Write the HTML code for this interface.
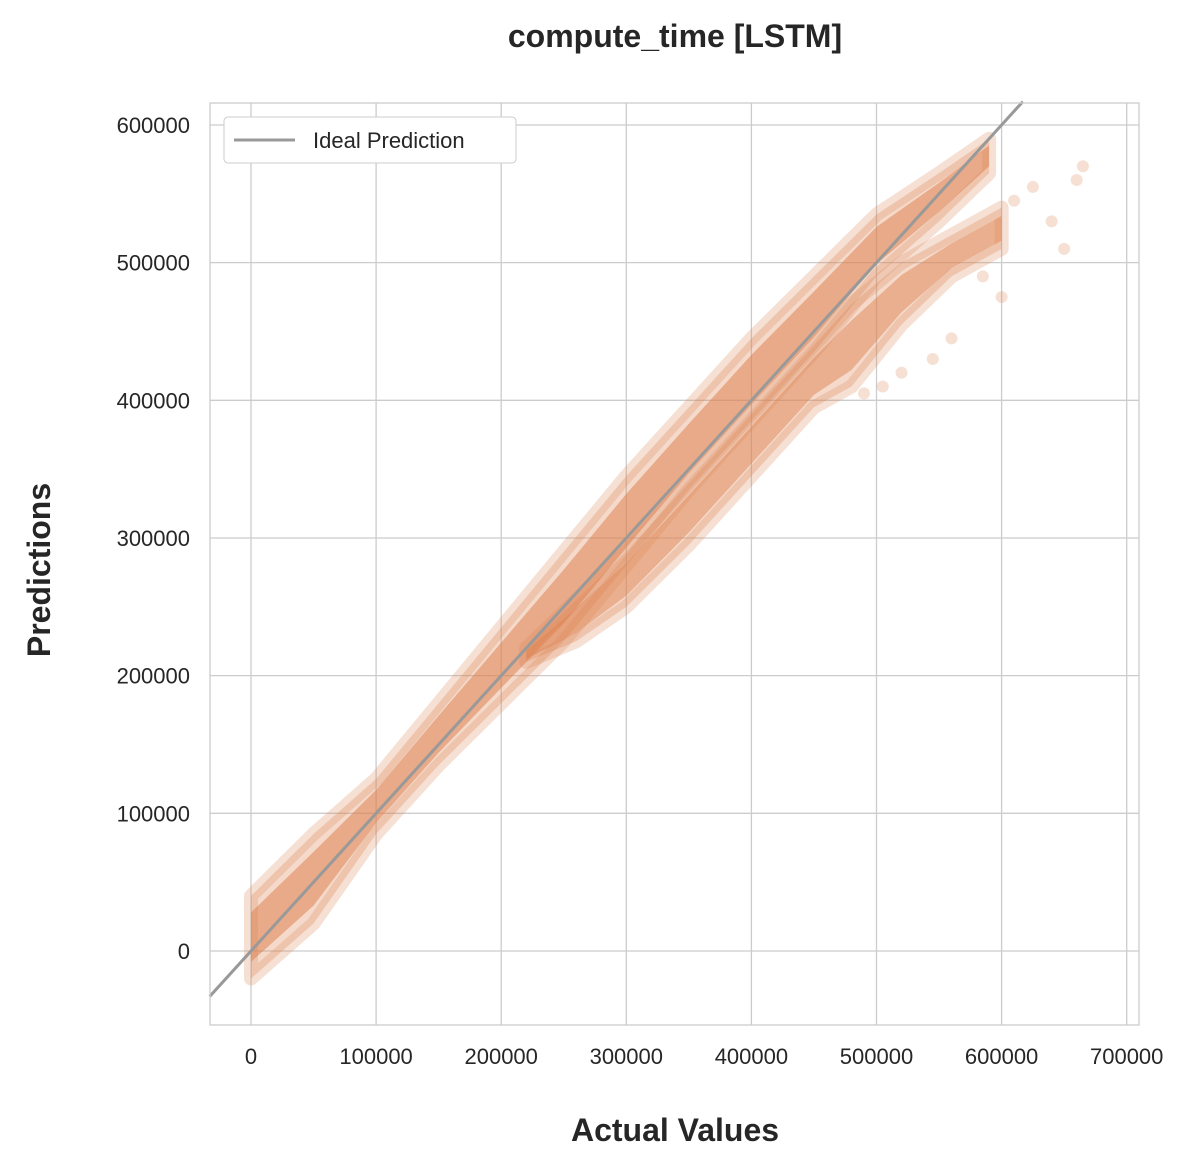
<!DOCTYPE html>
<html><head><meta charset="utf-8"><style>
body{margin:0;background:#fff;}
svg text{font-family:"Liberation Sans",Arial,sans-serif;fill:#262626;}
</style></head><body>
<svg id="chart" width="1191" height="1170" viewBox="0 0 1191 1170" xmlns="http://www.w3.org/2000/svg">
<rect width="1191" height="1170" fill="#fff"/>
<text x="675" y="47" font-size="32" font-weight="bold" text-anchor="middle">compute_time [LSTM]</text>
<g id="grid"></g>
<g id="marks"></g>
<line id="ideal" stroke="#999" stroke-width="3"/>
<rect x="210" y="103" width="929" height="922" fill="none" stroke="#ccc" stroke-width="1.3"/>
<g id="ticks"></g>
<text x="675" y="1141" font-size="32" font-weight="bold" text-anchor="middle">Actual Values</text>
<text transform="translate(50,570) rotate(-90)" font-size="32" font-weight="bold" text-anchor="middle">Predictions</text>
<g>
<rect x="224" y="117" width="292" height="46" rx="4" fill="#fff" stroke="#ccc"/>
<line x1="234" y1="140" x2="295" y2="140" stroke="#999" stroke-width="3"/>
<text x="313" y="148" font-size="22">Ideal Prediction</text>
</g>
</svg>
<script>
const xTicks=[0,100000,200000,300000,400000,500000,600000,700000];
const yTicks=[0,100000,200000,300000,400000,500000,600000];
const upperX=[0,50000,100000,150000,200000,250000,300000,350000,400000,450000,500000,550000,590000];
const upperHi=[40000,85000,125000,180000,235000,290000,345000,395000,445000,490000,535000,565000,590000];
const upperLo=[-20000,20000,85000,135000,180000,225000,280000,335000,385000,435000,490000,530000,565000];
const lowerX=[220000,260000,300000,350000,400000,450000,480000,520000,560000,600000];
const lowerHi=[220000,255000,290000,340000,390000,440000,470000,500000,520000,540000];
const lowerLo=[210000,225000,250000,295000,345000,395000,410000,455000,490000,510000];
const outX=[610000,625000,640000,650000,660000,665000,600000,585000,560000,545000,520000,505000,490000];
const outY=[545000,555000,530000,510000,560000,570000,475000,490000,445000,430000,420000,410000,405000];
const NS='http://www.w3.org/2000/svg';
const sx=v=>251+v*125.1/100000, sy=v=>951-v*137.67/100000;
const mk=(t,p)=>{const e=document.createElementNS(NS,t);for(const k in p)e.setAttribute(k,p[k]);return e;};
const grid=document.getElementById('grid'),ticks=document.getElementById('ticks'),marks=document.getElementById('marks');
xTicks.forEach(v=>{const l=mk('line',{x1:sx(v),x2:sx(v),y1:103,y2:1025,stroke:'#ccc','stroke-width':1.3});

grid.appendChild(l);
const t=mk('text',{x:sx(v),y:1064,'font-size':22,'text-anchor':'middle'});t.textContent=v;

ticks.appendChild(t);});
yTicks.forEach(v=>{const l=mk('line',{x1:210,x2:1139,y1:sy(v),y2:sy(v),stroke:'#ccc','stroke-width':1.3});

grid.appendChild(l);
const t=mk('text',{x:190,y:sy(v)+8,'font-size':22,'text-anchor':'end'});t.textContent=v;

ticks.appendChild(t);});
function band(xs,hi,lo,name,op){
 let pts=xs.map((x,i)=>sx(x)+','+sy(hi[i]));
 for(let i=xs.length-1;i>=0;i--)pts.push(sx(xs[i])+','+sy(lo[i]));
 const halo=mk('polygon',{points:pts.join(' '),fill:'#dd8452','fill-opacity':0.3,stroke:'#dd8452','stroke-opacity':0.25,'stroke-width':14,'stroke-linejoin':'round'});
 
 marks.appendChild(halo);
 let c=xs.map((x,i)=>sx(x)+','+sy(hi[i]-(hi[i]-lo[i])*0.2));
 for(let i=xs.length-1;i>=0;i--)c.push(sx(xs[i])+','+sy(lo[i]+(hi[i]-lo[i])*0.2));
 const core=mk('polygon',{points:c.join(' '),fill:'#dd8452','fill-opacity':op,'stroke-linejoin':'round'});
 
 marks.appendChild(core);
}
band(upperX,upperHi,upperLo,'upper-point-cloud',0.55);
band(lowerX,lowerHi,lowerLo,'lower-point-cloud',0.5);
outX.forEach((x,i)=>{const c=mk('circle',{cx:sx(x),cy:sy(outY[i]),r:6,fill:'#dd8452','fill-opacity':0.25});

marks.appendChild(c);});
const a=-33000,b=617000,il=document.getElementById('ideal');
il.setAttribute('x1',sx(a));il.setAttribute('y1',sy(a));il.setAttribute('x2',sx(b));il.setAttribute('y2',sy(b));
</script>
</body></html>
